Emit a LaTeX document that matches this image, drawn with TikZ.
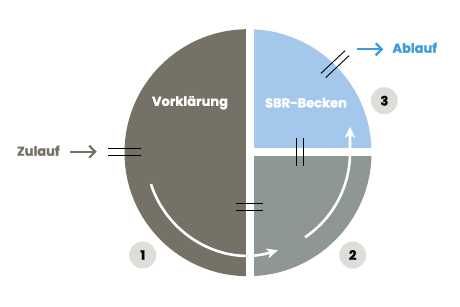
\documentclass[tikz,border=0pt]{standalone}
\usepackage{fontspec}
\setmainfont{Poppins}[BoldFeatures={FakeBold=1.2}]
\usepackage{tikz}
\usetikzlibrary{arrows.meta}

\definecolor{vkgray}{HTML}{767166}
\definecolor{sbrblue}{HTML}{A4C8EC}
\definecolor{sbrgray}{HTML}{8F9792}
\definecolor{outblue}{HTML}{3D9CDC}
\definecolor{numfill}{HTML}{DDDDD9}

\begin{document}
\begin{tikzpicture}[x=1pt,y=1pt,>=Stealth,
    every node/.style={font=\fontsize{13}{15}\selectfont\bfseries},
    pipe/.style={black,line width=0.9pt},
    flow/.style={white,line width=2.6pt,-{Stealth[length=11pt,width=10pt,inset=3pt]}},
    numbadge/.style={circle,fill=numfill,minimum size=27pt,inner sep=0pt}]
  \useasboundingbox (0,0) rectangle (460,307);
  \coordinate (C) at (248,154.3);

  % Basins
  \begin{scope}
    \clip (C) circle (123.5);
    \fill[vkgray] (0,0) rectangle (250,307);
    \fill[sbrblue] (250,155.3) rectangle (460,307);
    \fill[sbrgray] (250,0) rectangle (460,155.3);
  \end{scope}
  \draw[white,line width=8pt] (250,20) -- (250,290);
  \draw[white,line width=8pt] (250,155.3) -- (380,155.3);

  % Flow arrows
  \draw[flow] ([shift={(198:102)}]C) arc[start angle=198,end angle=287,radius=102];
  \draw[flow] ([shift={(304:102)}]C) arc[start angle=304,end angle=360,radius=102] -- ++(0,26);

  % Pipes
  \draw[pipe] (108,158.7) -- (140.7,158.7);
  \draw[pipe] (108,152) -- (140.7,152);
  \draw[pipe] (235.7,103.7) -- (263.3,103.7);
  \draw[pipe] (235.7,96.3) -- (263.3,96.3);
  \draw[pipe] (296.7,168.7) -- (296.7,141.3);
  \draw[pipe] (303.3,168.7) -- (303.3,141.3);
  \draw[pipe] (321,233.7) -- (345,256.3);
  \draw[pipe] (325.7,229.3) -- (349,251.3);

  % Labels
  \node[white] (vk) at (190,204.3) {Vorklärung};
  \node[white] (sbr) at (306,204.3) {SBR-Becken};
  \node[vkgray] (zu) at (38.3,156.3) {Zulauf};
  \node[outblue] (ab) at (414.7,259.3) {Ablauf};
  \coordinate (zustart) at (70,155.3);
  \coordinate (zuend) at (96.7,155.3);
  \coordinate (abstart) at (357.3,257.7);
  \coordinate (abend) at (383.3,257.7);
  \draw[vkgray,line width=2.2pt,-{Straight Barb[length=6pt,width=12pt]}] (zustart) -- (zuend);
  \draw[outblue,line width=2.2pt,-{Straight Barb[length=6pt,width=12pt]}] (abstart) -- (abend);

  % Steps
  \node[numbadge] (n1) at (142.7,52) {1};
  \node[numbadge] (n2) at (352.7,52) {2};
  \node[numbadge] (n3) at (384.3,206.3) {3};
\end{tikzpicture}
\end{document}
